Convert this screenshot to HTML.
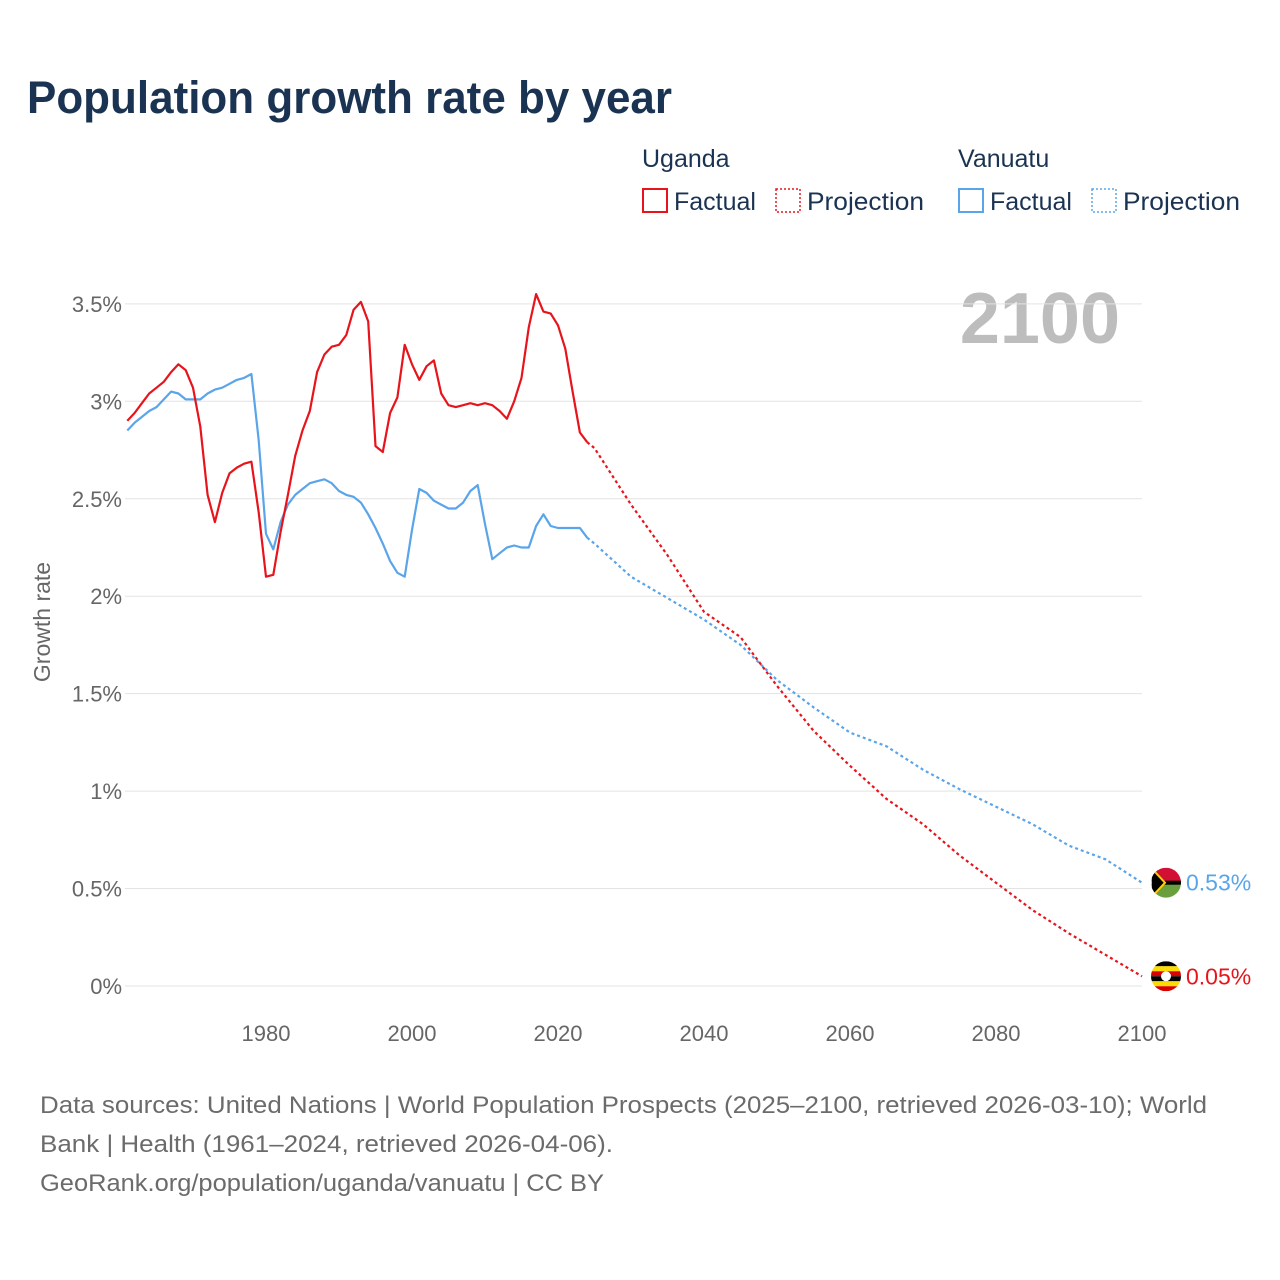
<!DOCTYPE html>
<html><head><meta charset="utf-8">
<style>
body{margin:0;background:#fff;}
svg{display:block;font-family:"Liberation Sans",sans-serif;}
</style></head>
<body>
<svg id="chart" width="1280" height="1280">
<text x="27" y="113" font-size="45" font-weight="bold" fill="#1b3352" textLength="645" lengthAdjust="spacingAndGlyphs">Population growth rate by year</text>
<g font-size="25" fill="#1b3352">
<text x="642" y="167">Uganda</text>
<rect x="643" y="189" width="24" height="23" fill="none" stroke="#e8141b" stroke-width="2"/>
<text x="674" y="210">Factual</text>
<rect x="776" y="189" width="24" height="23" fill="none" stroke="#e8141b" stroke-width="1.5" stroke-dasharray="2,2"/>
<text x="807" y="210" textLength="117" lengthAdjust="spacingAndGlyphs">Projection</text>
<text x="958" y="167">Vanuatu</text>
<rect x="959" y="189" width="24" height="23" fill="none" stroke="#5aa5ea" stroke-width="2"/>
<text x="990" y="210">Factual</text>
<rect x="1092" y="189" width="24" height="23" fill="none" stroke="#5aa5ea" stroke-width="1.5" stroke-dasharray="2,2"/>
<text x="1123" y="210" textLength="117" lengthAdjust="spacingAndGlyphs">Projection</text>
</g>
<text x="1120" y="343" font-size="72" font-weight="bold" fill="#bdbdbd" text-anchor="end">2100</text>
<text transform="translate(50,622) rotate(-90)" font-size="23" fill="#666" text-anchor="middle">Growth rate</text>
<g id="grid"></g><g id="series"></g>
<g font-size="24" fill="#6b6b6b">
<text x="40" y="1113" textLength="1167" lengthAdjust="spacingAndGlyphs">Data sources: United Nations | World Population Prospects (2025–2100, retrieved 2026-03-10); World</text>
<text x="40" y="1152" textLength="573" lengthAdjust="spacingAndGlyphs">Bank | Health (1961–2024, retrieved 2026-04-06).</text>
<text x="40" y="1191" textLength="564" lengthAdjust="spacingAndGlyphs">GeoRank.org/population/uganda/vanuatu | CC BY</text>
</g>
</svg>
<script>
const yTicks=[0,0.5,1,1.5,2,2.5,3,3.5];
const yTickLabels=["0%","0.5%","1%","1.5%","2%","2.5%","3%","3.5%"];
const xTicks=[1980,2000,2020,2040,2060,2080,2100];
const factYears=[];for(let y=1961;y<=2024;y++)factYears.push(y);
const projYears=[2024,2025,2030,2035,2040,2045,2050,2055,2060,2065,2070,2075,2080,2085,2090,2095,2100];
const ugandaFactual=[2.90,2.94,2.99,3.04,3.07,3.10,3.15,3.19,3.16,3.07,2.87,2.52,2.38,2.53,2.63,2.66,2.68,2.69,2.43,2.10,2.11,2.33,2.52,2.72,2.85,2.95,3.15,3.24,3.28,3.29,3.34,3.47,3.51,3.41,2.77,2.74,2.94,3.02,3.29,3.19,3.11,3.18,3.21,3.04,2.98,2.97,2.98,2.99,2.98,2.99,2.98,2.95,2.91,3.00,3.12,3.38,3.55,3.46,3.45,3.39,3.27,3.05,2.84,2.79];
const ugandaProj=[2.79,2.76,2.47,2.21,1.92,1.79,1.54,1.31,1.13,0.96,0.83,0.67,0.53,0.39,0.27,0.16,0.05];
const vanuatuFactual=[2.85,2.89,2.92,2.95,2.97,3.01,3.05,3.04,3.01,3.01,3.01,3.04,3.06,3.07,3.09,3.11,3.12,3.14,2.80,2.32,2.24,2.38,2.47,2.52,2.55,2.58,2.59,2.60,2.58,2.54,2.52,2.51,2.48,2.42,2.35,2.27,2.18,2.12,2.10,2.34,2.55,2.53,2.49,2.47,2.45,2.45,2.48,2.54,2.57,2.37,2.19,2.22,2.25,2.26,2.25,2.25,2.36,2.42,2.36,2.35,2.35,2.35,2.35,2.30];
const vanuatuProj=[2.30,2.27,2.10,1.99,1.88,1.75,1.57,1.43,1.30,1.23,1.11,1.01,0.92,0.83,0.72,0.65,0.53];
const X=y=>266+(y-1980)*7.3, Y=v=>986-v*194.9;
const NS="http://www.w3.org/2000/svg";
const grid=document.getElementById('grid'), ser=document.getElementById('series');
function mk(tag,attrs,parent){const e=document.createElementNS(NS,tag);for(const k in attrs)e.setAttribute(k,attrs[k]);parent.appendChild(e);return e;}
yTicks.forEach((v,i)=>{
 const l=mk('line',{x1:125,x2:1142,y1:Y(v),y2:Y(v),stroke:'#e3e3e3','stroke-width':1},grid);
 
 
 const t=mk('text',{x:122,y:Y(v)+8,'font-size':22,fill:'#666','text-anchor':'end'},grid);
 t.textContent=yTickLabels[i];
 
 
});
xTicks.forEach(yr=>{
 const t=mk('text',{x:X(yr),y:1041,'font-size':22,fill:'#666','text-anchor':'middle'},grid);
 t.textContent=yr;
 
 
});
function line(years,vals,color,dash,name){
 const d=years.map((y,i)=>(i?'L':'M')+X(y).toFixed(1)+','+Y(vals[i]).toFixed(1)).join('');
 const p=mk('path',{d:d,fill:'none',stroke:color,'stroke-width':2.2,'stroke-linejoin':'round'},ser);
 if(dash)p.setAttribute('stroke-dasharray','3,3');
 
 
}
line(factYears,vanuatuFactual,'#5aa5ea',false,'vanuatu-factual-line');
line(projYears,vanuatuProj,'#5aa5ea',true,'vanuatu-projection-line');
line(factYears,ugandaFactual,'#e8141b',false,'uganda-factual-line');
line(projYears,ugandaProj,'#e8141b',true,'uganda-projection-line');
function flag(cx,cy,kind){
 const g=mk('g',{},ser);
 
 
 const id='c'+kind;
 const cp=mk('clipPath',{id:id},g);mk('circle',{cx:cx,cy:cy,r:15},cp);
 const inner=mk('g',{'clip-path':'url(#'+id+')'},g);
 if(kind==='uganda'){
  const cols=['#000','#fcdc04','#d90000','#000','#fcdc04','#d90000'];
  cols.forEach((c,i)=>mk('rect',{x:cx-15,y:cy-15+i*5,width:30,height:5,fill:c},inner));
  mk('circle',{cx:cx,cy:cy,r:5,fill:'#fff'},inner);
 }else{
  mk('rect',{x:cx-15,y:cy-15,width:30,height:15,fill:'#d21034'},inner);
  mk('rect',{x:cx-15,y:cy,width:30,height:15,fill:'#6a9f3e'},inner);
  mk('rect',{x:cx-15,y:cy-2,width:30,height:4,fill:'#000'},inner);
  mk('polygon',{points:(cx-15)+','+(cy-15)+' '+(cx-1)+','+cy+' '+(cx-15)+','+(cy+15),fill:'#000',stroke:'#fdce12','stroke-width':2},inner);
 }
}
function endLabel(vals,color,kind){
 const v=vals[vals.length-1];
 flag(1166,Y(v),kind);
 const t=mk('text',{x:1186,y:Y(v)+8,'font-size':23,fill:color},ser);
 t.textContent=v.toFixed(2)+'%';
 
 
}
endLabel(vanuatuProj,'#5aa5ea','vanuatu');
endLabel(ugandaProj,'#e8141b','uganda');
</script>
</body></html>
